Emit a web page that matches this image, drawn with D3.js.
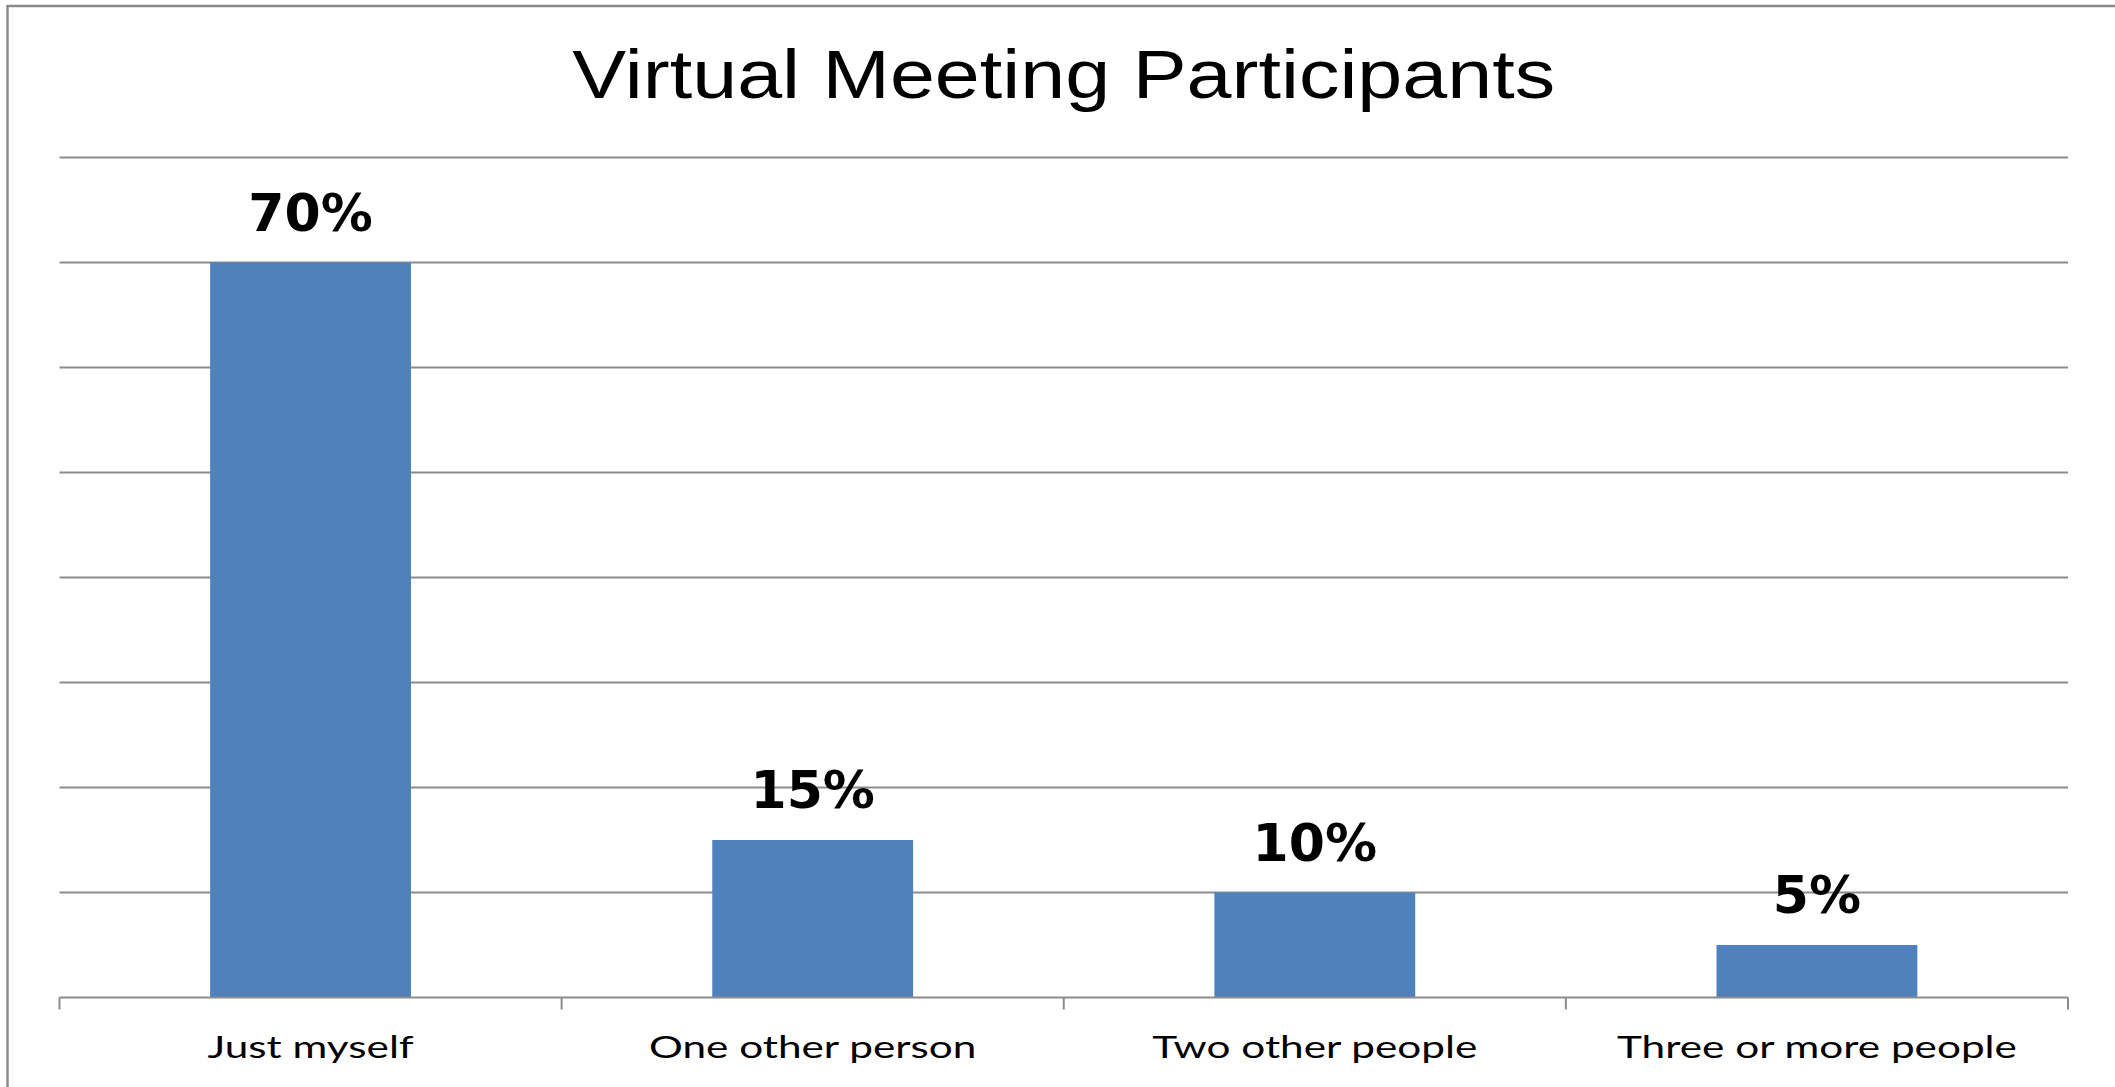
<!DOCTYPE html>
<html>
<head>
<meta charset="utf-8">
<script src="https://cdn.jsdelivr.net/npm/d3@7"></script>
<style>
  html, body { margin: 0; padding: 0; background: #fff; overflow: hidden; }
</style>
</head>
<body>
<div id="chart"></div>
<script>
const categories = ["Just myself", "One other person", "Two other people", "Three or more people"];
const values = [70, 15, 10, 5];
const gridTicks = [0, 10, 20, 30, 40, 50, 60, 70, 80];
const chartTitle = "Virtual Meeting Participants";

(function() {
    const width = 2115, height = 1087;
    const plotLeft = 59.5, plotRight = 2068, plotTop = 157.5, plotBottom = 997.5;
    // the source picture is stretched sideways; text is widened to match
    const titleWidth = 983, longestLabelWidth = 400;

    const svg = d3.select("#chart").append("svg")
        .attr("width", width)
        .attr("height", height);

    // frame (only top and left edges are visible in the picture)
    svg.append("line").attr("x1", 7).attr("x2", width).attr("y1", 6).attr("y2", 6)
        .attr("stroke", "#8a8a8a").attr("stroke-width", 2.5);
    svg.append("line").attr("x1", 7.5).attr("x2", 7.5).attr("y1", 5).attr("y2", height)
        .attr("stroke", "#8a8a8a").attr("stroke-width", 2.5);

    const x = d3.scaleBand().domain(categories).range([plotLeft, plotRight])
        .paddingInner(0.6).paddingOuter(0.3);
    const y = d3.scaleLinear().domain([0, 80]).range([plotBottom, plotTop]);

    // gridlines
    svg.append("g").selectAll("line").data(gridTicks.filter(d => d > 0)).join("line")
        .attr("x1", plotLeft).attr("x2", plotRight)
        .attr("y1", d => y(d)).attr("y2", d => y(d))
        .attr("stroke", "#8c8c8c").attr("stroke-width", 2);

    // bars
    svg.append("g").selectAll("rect").data(values).join("rect")
        .attr("x", (d, i) => x(categories[i]))
        .attr("width", x.bandwidth())
        .attr("y", d => y(d))
        .attr("height", d => y(0) - y(d))
        .attr("fill", "#4f81bd");

    // x axis: baseline + ticks between categories
    svg.append("line").attr("x1", plotLeft).attr("x2", plotRight)
        .attr("y1", plotBottom).attr("y2", plotBottom)
        .attr("stroke", "#8c8c8c").attr("stroke-width", 2);
    const tickXs = d3.range(categories.length + 1)
        .map(i => plotLeft + i * (plotRight - plotLeft) / categories.length);
    svg.append("g").selectAll("line").data(tickXs).join("line")
        .attr("x1", d => d).attr("x2", d => d)
        .attr("y1", plotBottom).attr("y2", plotBottom + 12)
        .attr("stroke", "#8c8c8c").attr("stroke-width", 2);

    // category labels
    const catLabels = svg.append("g").selectAll("text").data(categories).join("text")
        .attr("text-anchor", "middle")
        .style("font-family", "Lato, 'Open Sans', sans-serif")
        .style("font-size", "30px")
        .attr("fill", "#000")
        .text(d => d);
    const longest = d3.max(catLabels.nodes(), n => n.getComputedTextLength());
    const kLabel = longestLabelWidth / longest;
    catLabels.attr("transform", d => `translate(${x(d) + x.bandwidth() / 2},1058) scale(${kLabel},1)`);

    // value labels
    svg.append("g").selectAll("text").data(values).join("text")
        .attr("x", (d, i) => x(categories[i]) + x.bandwidth() / 2)
        .attr("y", d => y(d) - 32)
        .attr("text-anchor", "middle")
        .style("font-family", "'DejaVu Sans', Verdana, sans-serif")
        .style("font-weight", "bold")
        .style("font-size", "52px")
        .attr("fill", "#000")
        .text(d => d + "%");

    // title
    const title = svg.append("text")
        .attr("text-anchor", "middle")
        .style("font-family", "'Liberation Sans', Arial, sans-serif")
        .style("font-size", "68px")
        .attr("fill", "#000")
        .text(chartTitle);
    const kTitle = titleWidth / title.node().getComputedTextLength();
    title.attr("transform", `translate(${(plotLeft + plotRight) / 2},98) scale(${kTitle},1)`);
})();
</script>
</body>
</html>
